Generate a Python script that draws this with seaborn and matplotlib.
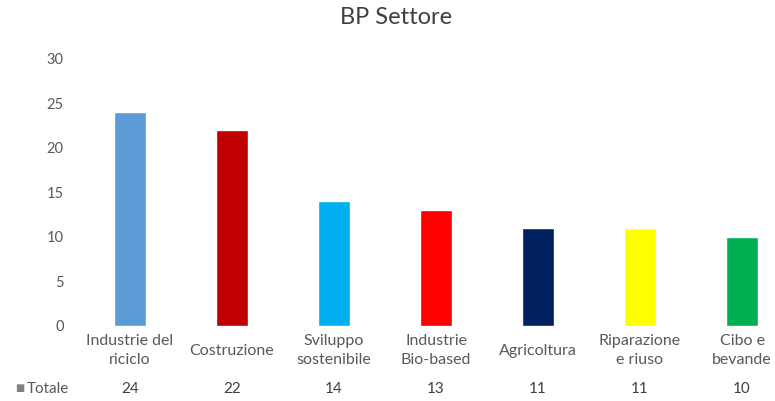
import matplotlib
matplotlib.use("Agg")
import matplotlib.pyplot as plt
import matplotlib.transforms as mtransforms
import seaborn as sns
import pandas as pd

categories = ["Industrie del\nriciclo", "Costruzione", "Sviluppo\nsostenibile",
              "Industrie\nBio-based", "Agricoltura", "Riparazione\ne riuso", "Cibo e\nbevande"]
values = [24, 22, 14, 13, 11, 11, 10]
colors = ["#5B9BD5", "#C00000", "#00B0F0", "#FF0000", "#002060", "#FFFF00", "#00B050"]
series_name = "Totale"
title = "BP Settore"
yticks = [0, 5, 10, 15, 20, 25, 30]

sns.set_theme(style="white")
plt.rcParams["font.family"] = ["Lato", "DejaVu Sans"]

W, H = 775, 401
fig = plt.figure(figsize=(W / 100, H / 100), dpi=100)
left, right, top, bottom = 79, 775, 59, 325.6
ax = fig.add_axes([left / W, 1 - bottom / H, (right - left) / W, (bottom - top) / H])

df = pd.DataFrame({"cat": categories, "val": values})
sns.barplot(data=df, x="cat", y="val", hue="cat", palette=dict(zip(categories, colors)),
            width=0.31, legend=False, ax=ax, saturation=1)

span = (right - left) / 102.0
ax.set_xlim(-0.5, -0.5 + span)
ax.set_ylim(0, 30)
ax.set_yticks(yticks)
ax.set_yticklabels([str(t) for t in yticks], fontsize=10.5, color="#595959")
ax.tick_params(axis="y", length=0, pad=11)
ax.set_xticks(range(len(categories)))
ax.set_xticklabels(categories, fontsize=11.5, color="#595959", linespacing=1.45)
for lab in ax.get_xticklabels():
    lab.set_va("center")
ax.tick_params(axis="x", length=0, pad=18)
ax.set_xlabel("")
ax.set_ylabel("")
for s in ax.spines.values():
    s.set_visible(False)

fig.text(396 / W, 1 - 18 / H, title, ha="center", va="center", fontsize=17, color="#404040")

# data table row
trans = mtransforms.blended_transform_factory(ax.transData, fig.transFigure)
ty = 1 - 389 / H
for i, v in enumerate(values):
    ax.text(i, ty, str(v), transform=trans, ha="center", va="center", fontsize=11, color="#404040")
fig.text(15 / W, ty, "\u25A0", ha="left", va="center", fontsize=7, color="#808080")
fig.text(27 / W, ty, series_name, ha="left", va="center", fontsize=11, color="#595959")

fig.savefig("out.png", dpi=100)
